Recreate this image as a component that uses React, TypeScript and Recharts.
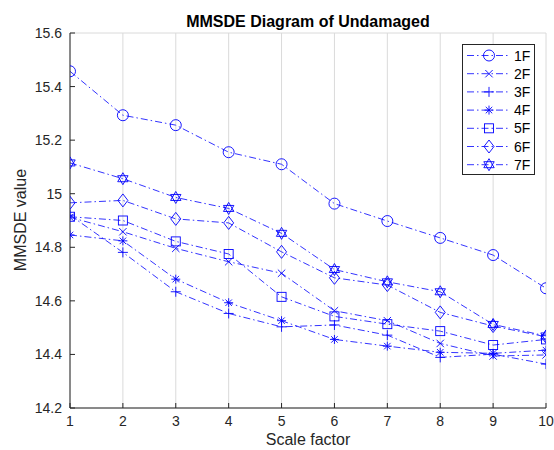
import React from 'react';
import {
  LineChart,
  Line,
  XAxis,
  YAxis,
  CartesianGrid
} from 'recharts';

const scaleFactors = [1, 2, 3, 4, 5, 6, 7, 8, 9, 10];
const s1F = [15.457, 15.293, 15.256, 15.155, 15.11, 14.963, 14.898, 14.835, 14.771, 14.647];
const s2F = [14.912, 14.858, 14.796, 14.746, 14.703, 14.563, 14.526, 14.441, 14.394, 14.398];
const s3F = [14.92, 14.781, 14.634, 14.553, 14.503, 14.51, 14.472, 14.389, 14.401, 14.364];
const s4F = [14.846, 14.824, 14.681, 14.593, 14.526, 14.456, 14.431, 14.408, 14.404, 14.416];
const s5F = [14.914, 14.9, 14.822, 14.775, 14.615, 14.542, 14.513, 14.487, 14.435, 14.456];
const s6F = [14.966, 14.975, 14.906, 14.891, 14.783, 14.686, 14.659, 14.557, 14.506, 14.466];
const s7F = [15.115, 15.056, 14.986, 14.945, 14.852, 14.717, 14.671, 14.634, 14.512, 14.469];
const yTicks = [14.2, 14.4, 14.6, 14.8, 15, 15.2, 15.4, 15.6];

const seriesNames = ['1F', '2F', '3F', '4F', '5F', '6F', '7F'];
const seriesValues = [s1F, s2F, s3F, s4F, s5F, s6F, s7F];
const markers = ['circle', 'x', 'plus', 'star', 'square', 'diamond', 'hexagram'];

const data = scaleFactors.map((x, i) => {
  const row: Record<string, number> = { x };
  seriesNames.forEach((n, j) => { row[n] = seriesValues[j][i]; });
  return row;
});

const BLUE = '#0000ff';
const AXIS = '#262626';
const DASH = '7 3 1.5 3';
const FONT = '"Liberation Sans", Arial, sans-serif';

function Marker({ kind, cx, cy }: { kind: string; cx: number; cy: number }) {
  const s = 4.5;
  const common = { stroke: BLUE, strokeWidth: 0.9, fill: 'none' };
  switch (kind) {
    case 'circle':
      return <circle cx={cx} cy={cy} r={5.5} {...common} />;
    case 'x':
      return (
        <path d={`M${cx - s + 0.8},${cy - s + 0.8}L${cx + s - 0.8},${cy + s - 0.8}M${cx - s + 0.8},${cy + s - 0.8}L${cx + s - 0.8},${cy - s + 0.8}`} {...common} />
      );
    case 'plus':
      return <path d={`M${cx - s - 0.5},${cy}L${cx + s + 0.5},${cy}M${cx},${cy - s - 0.5}L${cx},${cy + s + 0.5}`} {...common} />;
    case 'star': {
      const d = s * 0.72;
      return (
        <path
          d={`M${cx - s},${cy}L${cx + s},${cy}M${cx},${cy - s}L${cx},${cy + s}M${cx - d},${cy - d}L${cx + d},${cy + d}M${cx - d},${cy + d}L${cx + d},${cy - d}`}
          {...common}
        />
      );
    }
    case 'square':
      return <rect x={cx - 4.5} y={cy - 4.5} width={9} height={9} {...common} />;
    case 'diamond':
      return <path d={`M${cx},${cy - 6.5}L${cx + 5},${cy}L${cx},${cy + 6.5}L${cx - 5},${cy}Z`} {...common} />;
    case 'hexagram': {
      const r = 6;
      const tri = (off: number) =>
        [0, 1, 2]
          .map((k) => {
            const a = off + (k * 2 * Math.PI) / 3;
            return `${k === 0 ? 'M' : 'L'}${cx + r * Math.sin(a)},${cy - r * Math.cos(a)}`;
          })
          .join('') + 'Z';
      return <path d={tri(0) + tri(Math.PI)} {...common} />;
    }
    default:
      return null;
  }
}

const LegendBox = ({ x, y }: { x: number; y: number }) => (
  <g transform={`translate(${x},${y})`}>
    <rect x={0.5} y={0.5} width={72} height={130} fill="#fff" stroke={AXIS} strokeWidth={1} />
    {seriesNames.map((n, i) => {
      const ly = 11.5 + i * 18.2;
      return (
        <g key={n}>
          <line x1={5} x2={48} y1={ly} y2={ly} stroke={BLUE} strokeWidth={0.8} strokeDasharray={DASH} />
          <Marker kind={markers[i]} cx={27} cy={ly} />
          <text x={52} y={ly + 5} fontSize={14} fontFamily={FONT} fill="#000">
            {n}
          </text>
        </g>
      );
    })}
  </g>
);

export default function App() {
  return (
    <div style={{ position: 'absolute', left: 0, top: 0, width: 554, height: 450, background: '#fff' }}>
      <LineChart width={554} height={450} data={data} margin={{ top: 33, right: 8, bottom: 0, left: 0 }}>
        <CartesianGrid stroke="#dadada" strokeWidth={1} horizontal vertical />
        <XAxis
          xAxisId="b"
          dataKey="x"
          type="number"
          domain={[1, 10]}
          ticks={scaleFactors}
          stroke={AXIS}
          tickSize={-5}
          tickMargin={13}
          height={42}
          tick={{ fill: AXIS, fontSize: 14, fontFamily: FONT }}
          allowDataOverflow
        />
        <XAxis
          xAxisId="t"
          orientation="top"
          dataKey="x"
          type="number"
          domain={[1, 10]}
          ticks={scaleFactors}
          stroke={AXIS}
          tickSize={-5}
          tick={false}
          height={0}
        />
        <YAxis
          yAxisId="l"
          type="number"
          domain={[14.2, 15.6]}
          ticks={yTicks}
          stroke={AXIS}
          tickSize={-5}
          tickMargin={13}
          width={70}
          tick={{ fill: AXIS, fontSize: 14, fontFamily: FONT }}
          tickFormatter={(v: number) => String(Math.round(v * 10) / 10)}
          allowDataOverflow
        />
        <YAxis
          yAxisId="r"
          orientation="right"
          type="number"
          domain={[14.2, 15.6]}
          ticks={yTicks}
          stroke={AXIS}
          tickSize={-5}
          tick={false}
          width={0}
        />
        {seriesNames.map((n, i) => (
          <Line
            key={n}
            xAxisId="b"
            yAxisId="l"
            type="linear"
            dataKey={n}
            stroke={BLUE}
            strokeWidth={0.8}
            strokeDasharray={DASH}
            isAnimationActive={false}
            activeDot={false}
            dot={(p: any) => <Marker key={`${n}-${p.index}`} kind={markers[i]} cx={p.cx} cy={p.cy} />}
          />
        ))}
        <LegendBox x={462} y={44} />
        <text x={308} y={27} textAnchor="middle" fontSize={16} fontWeight="bold" fontFamily={FONT} fill="#000">
          MMSDE Diagram of Undamaged
        </text>
        <text
          x={26}
          y={220}
          textAnchor="middle"
          fontSize={16}
          fontFamily={FONT}
          fill={AXIS}
          transform="rotate(-90 26 220)"
        >
          MMSDE value
        </text>
        <text x={308} y={445} textAnchor="middle" fontSize={16} fontFamily={FONT} fill={AXIS}>
          Scale factor
        </text>
      </LineChart>
    </div>
  );
}
